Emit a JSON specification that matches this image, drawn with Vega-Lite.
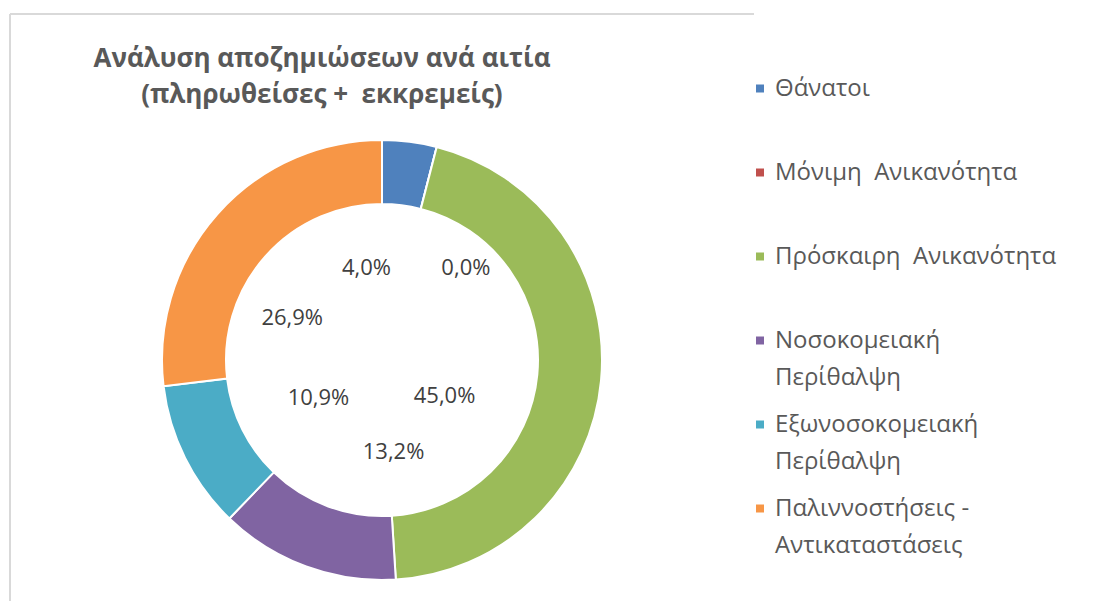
{
  "$schema": "https://vega.github.io/schema/vega-lite/v6.json",
  "autosize": {"type": "none"},
  "width": 744,
  "height": 692,
  "padding": {"left": 10, "top": 14, "right": 355, "bottom": -105},
  "background": "#ffffff",
  "config": {
    "view": {"stroke": null},
    "locale": {"number": {"decimal": ",", "thousands": ".", "grouping": [3], "currency": ["", " €"]}},
    "font": "Open Sans",
    "style": {"guide-label": {"lineHeight": 37}}
  },
  "title": {
    "text": ["Ανάλυση αποζημιώσεων ανά αιτία", "(πληρωθείσες +\u00a0 εκκρεμείς)"],
    "font": "Open Sans",
    "fontSize": 26,
    "fontWeight": "bold",
    "color": "#595959",
    "lineHeight": 36,
    "anchor": "middle",
    "frame": "group",
    "baseline": "alphabetic",
    "offset": -61,
    "dx": -60,
    "dy": 55
  },
  "layer": [
    {
      "data": {"values": [{"frame": "border"}]},
      "mark": {"type": "rect", "fill": null, "stroke": "#d9d9d9", "strokeWidth": 2, "strokeDash": [744, 1436, 692, 0]},
      "encoding": {}
    },
    {
      "data": {"name": "claims", "values": [
        {"k": 1, "cause": "Θάνατοι", "share": 0.040},
        {"k": 2, "cause": "Μόνιμη  Ανικανότητα", "share": 0.000},
        {"k": 3, "cause": "Πρόσκαιρη  Ανικανότητα", "share": 0.450},
        {"k": 4, "cause": "Νοσοκομειακή Περίθαλψη", "share": 0.132},
        {"k": 5, "cause": "Εξωνοσοκομειακή Περίθαλψη", "share": 0.109},
        {"k": 6, "cause": "Παλιννοστήσεις - Αντικαταστάσεις", "share": 0.269}
      ]},
      "encoding": {
        "theta": {"field": "share", "type": "quantitative", "stack": true},
        "order": {"field": "k", "type": "quantitative"}
      },
      "layer": [
        {
          "mark": {"type": "arc", "innerRadius": 156, "outerRadius": 220, "stroke": "#ffffff", "strokeWidth": 2},
          "encoding": {
            "color": {
              "field": "cause",
              "type": "nominal",
              "sort": null,
              "scale": {
                "domain": ["Θάνατοι", "Μόνιμη  Ανικανότητα", "Πρόσκαιρη  Ανικανότητα", "Νοσοκομειακή Περίθαλψη", "Εξωνοσοκομειακή Περίθαλψη", "Παλιννοστήσεις - Αντικαταστάσεις"],
                "range": ["#4F81BD", "#C0504D", "#9BBB59", "#8064A2", "#4BACC6", "#F79646"]
              },
              "legend": {
                "title": null,
                "orient": "none",
                "legendX": 738,
                "legendY": 70,
                "padding": 0,
                "symbolType": "M-1,-2.875H1V-0.875H-1Z",
                "symbolSize": 64,
                "symbolStrokeWidth": 0,
                "labelOffset": 3,
                "labelFont": "Open Sans",
                "labelFontSize": 24,
                "labelColor": "#595959",
                "labelBaseline": "alphabetic",
                "labelLimit": 500,
                "rowPadding": 23,
                "labelExpr": "datum.label == 'Νοσοκομειακή Περίθαλψη' ? ['Νοσοκομειακή', 'Περίθαλψη'] : datum.label == 'Εξωνοσοκομειακή Περίθαλψη' ? ['Εξωνοσοκομειακή', 'Περίθαλψη'] : datum.label == 'Παλιννοστήσεις - Αντικαταστάσεις' ? ['Παλιννοστήσεις -', 'Αντικαταστάσεις'] : [replace(datum.label, '  ', ' \u00a0'), ' ']",
                "encode": {"labels": {"update": {"lineHeight": {"value": 37}}}}
              }
            }
          }
        },
        {
          "mark": {"type": "text", "radius": 100, "dx": -28, "dy": 7, "fontSize": 22, "color": "#404040", "baseline": "middle", "align": "center"},
          "encoding": {"text": {"condition": {"test": "datum.k === 1", "field": "share", "type": "quantitative", "format": ".1%"}, "value": ""}}
        },
        {
          "mark": {"type": "text", "radius": 100, "dx": 59, "dy": 5, "fontSize": 22, "color": "#404040", "baseline": "middle", "align": "center"},
          "encoding": {"text": {"condition": {"test": "datum.k === 2", "field": "share", "type": "quantitative", "format": ".1%"}, "value": ""}}
        },
        {
          "mark": {"type": "text", "radius": 100, "dx": -37, "dy": 27, "fontSize": 22, "color": "#404040", "baseline": "middle", "align": "center"},
          "encoding": {"text": {"condition": {"test": "datum.k === 3", "field": "share", "type": "quantitative", "format": ".1%"}, "value": ""}}
        },
        {
          "mark": {"type": "text", "radius": 100, "dx": 46, "dy": -2, "fontSize": 22, "color": "#404040", "baseline": "middle", "align": "center"},
          "encoding": {"text": {"condition": {"test": "datum.k === 4", "field": "share", "type": "quantitative", "format": ".1%"}, "value": ""}}
        },
        {
          "mark": {"type": "text", "radius": 100, "dx": 26, "dy": -7, "fontSize": 22, "color": "#404040", "baseline": "middle", "align": "center"},
          "encoding": {"text": {"condition": {"test": "datum.k === 5", "field": "share", "type": "quantitative", "format": ".1%"}, "value": ""}}
        },
        {
          "mark": {"type": "text", "radius": 100, "dx": -15, "dy": 24, "fontSize": 22, "color": "#404040", "baseline": "middle", "align": "center"},
          "encoding": {"text": {"condition": {"test": "datum.k === 6", "field": "share", "type": "quantitative", "format": ".1%"}, "value": ""}}
        }
      ]
    }
  ]
}
